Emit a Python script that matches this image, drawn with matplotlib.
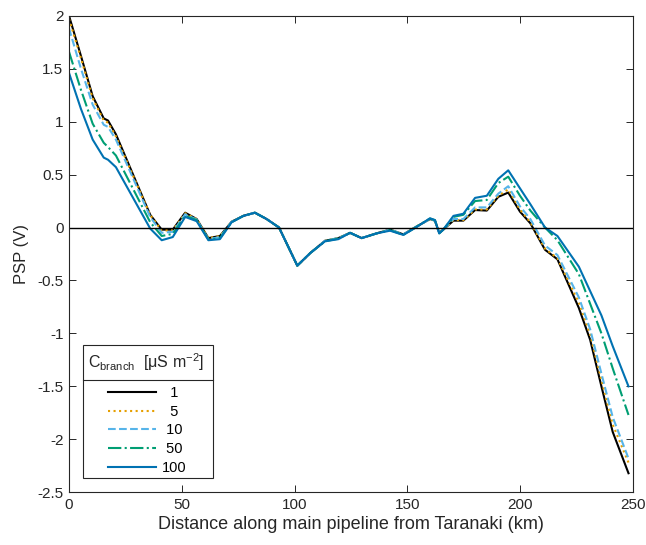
import numpy as np
import matplotlib
matplotlib.use('Agg')
import matplotlib.pyplot as plt
from matplotlib.patches import Rectangle

plt.rcParams['font.family'] = ['Liberation Sans', 'DejaVu Sans']
plt.rcParams['mathtext.default'] = 'regular'
plt.rcParams['axes.unicode_minus'] = False

# distance nodes along pipeline (km)
dist = [0, 5.3, 10.5, 15.4, 17.3, 20.8, 36.0,
        41.1, 46.0, 51.5, 56.6, 61.8, 66.9, 72.1, 77.3, 82.4, 87.6, 93.1,
        101.2, 107.0, 113.5, 119.4, 124.6, 129.7, 136.4, 142.3, 148.2, 154.1,
        160.0, 162.2, 164.1, 165.9, 170.4, 174.8, 180.0, 185.2, 190.3, 194.7,
        199.9, 204.5, 211.0, 216.5, 226.0, 231.0, 236.0, 241.0, 248.0]

# PSP (V) for each branch conductance
psp_1 = [2.0, 1.62, 1.24, 1.03, 1.01, 0.88, 0.12,
         -0.02, -0.02, 0.14, 0.08, -0.10, -0.08, 0.055, 0.11, 0.14, 0.08, 0.0,
         -0.36, -0.24, -0.125, -0.10, -0.05, -0.10, -0.055, -0.02, -0.065, 0.01,
         0.08, 0.065, -0.05, -0.02, 0.065, 0.065, 0.165, 0.16, 0.29, 0.33,
         0.15, 0.04, -0.21, -0.30, -0.76, -1.06, -1.50, -1.93, -2.32]
psp_5 = [1.97, 1.60, 1.22, 1.01, 0.99, 0.86, 0.12,
         -0.03, -0.025, 0.135, 0.08, -0.10, -0.08, 0.055, 0.11, 0.14, 0.08, 0.0,
         -0.36, -0.24, -0.125, -0.10, -0.05, -0.10, -0.055, -0.02, -0.065, 0.01,
         0.08, 0.065, -0.05, -0.02, 0.07, 0.07, 0.17, 0.17, 0.30, 0.36,
         0.17, 0.05, -0.20, -0.29, -0.71, -1.01, -1.44, -1.86, -2.22]
psp_10 = [1.88, 1.50, 1.16, 0.97, 0.95, 0.83, 0.10,
          -0.05, -0.04, 0.125, 0.075, -0.11, -0.09, 0.055, 0.11, 0.14, 0.08, 0.0,
          -0.36, -0.24, -0.125, -0.10, -0.05, -0.10, -0.055, -0.02, -0.065, 0.01,
          0.08, 0.065, -0.05, -0.02, 0.08, 0.08, 0.19, 0.19, 0.32, 0.39,
          0.20, 0.08, -0.17, -0.26, -0.66, -0.96, -1.38, -1.79, -2.18]
psp_50 = [1.66, 1.30, 0.98, 0.80, 0.76, 0.68, 0.05,
          -0.08, -0.06, 0.11, 0.07, -0.115, -0.10, 0.05, 0.11, 0.14, 0.08, 0.0,
          -0.36, -0.24, -0.13, -0.105, -0.05, -0.10, -0.055, -0.025, -0.07, 0.008,
          0.085, 0.07, -0.055, -0.02, 0.10, 0.12, 0.25, 0.26, 0.42, 0.48,
          0.30, 0.16, 0.0, -0.12, -0.44, -0.72, -1.0, -1.33, -1.77]
psp_100 = [1.46, 1.12, 0.83, 0.66, 0.64, 0.57, -0.01,
           -0.12, -0.09, 0.10, 0.06, -0.12, -0.11, 0.05, 0.11, 0.14, 0.08, 0.0,
           -0.36, -0.24, -0.13, -0.11, -0.05, -0.10, -0.055, -0.03, -0.07, 0.005,
           0.087, 0.07, -0.055, -0.02, 0.11, 0.13, 0.28, 0.30, 0.46, 0.54,
           0.37, 0.22, 0.0, -0.08, -0.37, -0.60, -0.83, -1.12, -1.50]

labels = ['  1', '  5', ' 10', ' 50', '100']
colors = ['black', '#E69F00', '#56B4E9', '#009E73', '#0072B2']
styles = ['-', ':', '--', '-.', '-']

fig = plt.figure(figsize=(6.46, 5.45), dpi=100)
ax = fig.add_axes([0.1068, 0.0967, 0.8731, 0.8745])

series = [psp_1, psp_5, psp_10, psp_50, psp_100]
for y, lab, c, ls in zip(series, labels, colors, styles):
    ax.plot(dist, y, color=c, linestyle=ls, linewidth=1.5, label=lab)

ax.axhline(0, color='black', linewidth=1)

ax.set_xlim(0, 250)
ax.set_ylim(-2.5, 2)
ax.set_xticks([0, 50, 100, 150, 200, 250])
yt = [-2.5, -2, -1.5, -1, -0.5, 0, 0.5, 1, 1.5, 2]
ax.set_yticks(yt)
ax.set_yticklabels(['%g' % v for v in yt])
ax.tick_params(direction='in', length=5, width=0.7, top=True, right=True,
               labelsize=11, colors='0.15', pad=4)
for s in ax.spines.values():
    s.set_color('0.15')
    s.set_linewidth(0.8)

ax.set_xlabel('Distance along main pipeline from Taranaki (km)', fontsize=13,
              color='0.15', labelpad=3)
ax.set_ylabel('PSP (V)', fontsize=12, color='0.15', labelpad=6)

# legend entries (frame, title and separator drawn separately, MATLAB style)
leg = ax.legend(loc='upper left', bbox_to_anchor=(0.0697, 0.223), borderaxespad=0,
                borderpad=0, frameon=False, fontsize=10.5, handlelength=3.3,
                handletextpad=0.35, labelspacing=0.32)
ax.add_patch(Rectangle((0.0243, 0.0294), 0.2315, 0.2796, transform=ax.transAxes,
                       facecolor='white', edgecolor='0.15', linewidth=0.8, zorder=4))
leg.set_zorder(5)
ax.plot([0.0243, 0.2558], [0.2356, 0.2356], transform=ax.transAxes,
        color='0.15', linewidth=0.8, zorder=5)
ax.text(0.1372, 0.2741, 'C$_{branch}$  [$\\mu$S m$^{-2}$]', transform=ax.transAxes,
        ha='center', va='center', fontsize=11.5, color='0.15', zorder=5)

fig.savefig('out.png', dpi=100)
